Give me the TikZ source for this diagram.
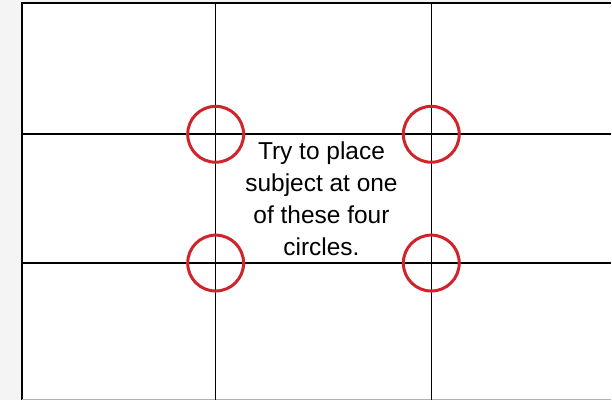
\documentclass[tikz,border=0pt]{standalone}
\usepackage{fontspec}
\setmainfont{Liberation Sans}
\usetikzlibrary{positioning}

\begin{document}
\begin{tikzpicture}[
    x=1pt, y=-1pt,
    grid/.style={draw=black, line width=1.6pt},
    frame/.style={draw=black, line width=2pt},
    spot/.style={draw={rgb,255:red,208;green,36;blue,44}, circle, line width=3pt,
                 minimum size=56pt, inner sep=0pt},
    note/.style={align=center, font=\fontsize{24.5}{32}\selectfont, inner sep=0pt},
  ]
    % page and frame
    \fill[gray!9] (0,0) rectangle (612,401);
    \fill[white] (22,3) rectangle (612,400);
    \draw[frame] (22,401) -- (22,3) -- (612,3);
    \draw[gray!60, line width=1pt] (22,400.5) -- (612,400.5);
    % thirds
    \draw[grid] (216,3) -- (216,401);
    \draw[grid] (432,3) -- (432,401);
    \draw[grid] (22,134.5) -- (612,134.5);
    \draw[grid] (22,263.5) -- (612,263.5);
    % the four spots
    \node[spot] (tl) at (216,134.5) {};
    \node[spot] (tr) at (432,134.5) {};
    \node[spot] (bl) at (216,263.5) {};
    \node[spot] (br) at (432,263.5) {};
    \node[note] (hint) at (322,199) {Try to place\\subject at one\\of these four\\circles.};
\end{tikzpicture}
\end{document}
